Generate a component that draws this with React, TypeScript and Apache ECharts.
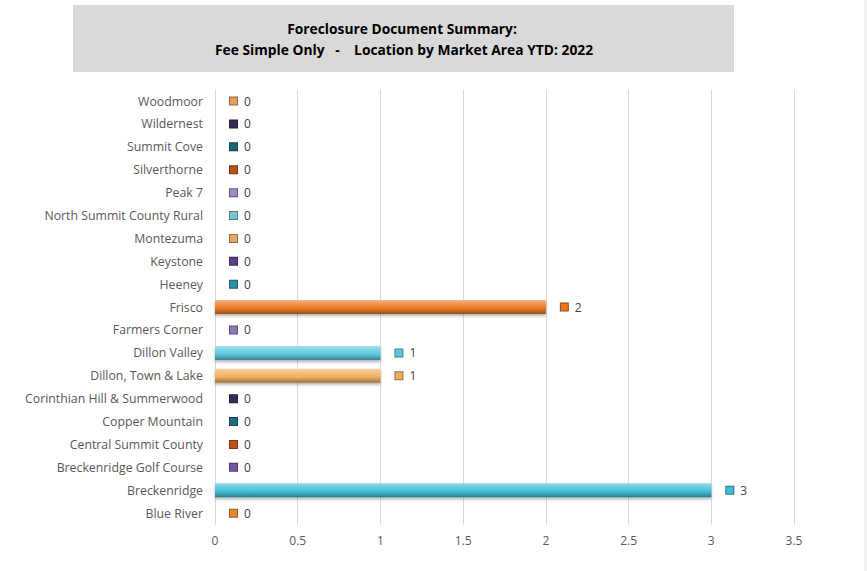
import React, { useEffect, useRef } from "react";
import * as echarts from "echarts";

const categories = [
  "Blue River",
  "Breckenridge",
  "Breckenridge Golf Course",
  "Central Summit County",
  "Copper Mountain",
  "Corinthian Hill & Summerwood",
  "Dillon, Town & Lake",
  "Dillon Valley",
  "Farmers Corner",
  "Frisco",
  "Heeney",
  "Keystone",
  "Montezuma",
  "North Summit County Rural",
  "Peak 7",
  "Silverthorne",
  "Summit Cove",
  "Wildernest",
  "Woodmoor",
];

const values = [0, 3, 0, 0, 0, 0, 1, 1, 0, 2, 0, 0, 0, 0, 0, 0, 0, 0, 0];

const colors = [
  "#E8892C",
  "#3FBCD4",
  "#7658A6",
  "#C0531C",
  "#1F6D7E",
  "#3B2B56",
  "#EFAE5E",
  "#5CC8DE",
  "#9077B6",
  "#EA761E",
  "#2A92AC",
  "#5A3E8A",
  "#E6A66A",
  "#7BC2D2",
  "#A08ABE",
  "#B8521C",
  "#1E6474",
  "#3A2A58",
  "#E69E5E",
];

const xTicks = { min: 0, max: 3.5, interval: 0.5 };

const titleLines = [
  "Foreclosure Document Summary:",
  "Fee Simple Only   -    Location by Market Area YTD: 2022",
];

function shade(hex: string, amt: number): string {
  const n = parseInt(hex.slice(1), 16);
  let r = (n >> 16) & 255;
  let g = (n >> 8) & 255;
  let b = n & 255;
  if (amt >= 0) {
    r = Math.round(r + (255 - r) * amt);
    g = Math.round(g + (255 - g) * amt);
    b = Math.round(b + (255 - b) * amt);
  } else {
    r = Math.round(r * (1 + amt));
    g = Math.round(g * (1 + amt));
    b = Math.round(b * (1 + amt));
  }
  return `rgb(${r},${g},${b})`;
}

export default function App() {
  const ref = useRef<HTMLDivElement>(null);
  useEffect(() => {
    if (!ref.current) return;
    const chart = echarts.init(ref.current, undefined, { renderer: "svg" });
    const rich: Record<string, any> = {
      v: { fontSize: 12, color: "#404040", fontFamily: "Open Sans", padding: [0, 0, 0, 7] },
    };
    colors.forEach((c, i) => {
      rich["m" + i] = {
        width: 7,
        height: 7,
        backgroundColor: c,
        borderColor: shade(c, -0.35),
        borderWidth: 1,
      };
    });
    const data = values.map((v, i) => ({
      value: v,
      itemStyle: {
        color: new echarts.graphic.LinearGradient(0, 0, 0, 1, [
          { offset: 0, color: shade(colors[i], 0.45) },
          { offset: 0.3, color: shade(colors[i], 0.2) },
          { offset: 0.6, color: colors[i] },
          { offset: 1, color: shade(colors[i], -0.35) },
        ]),
        shadowBlur: 3,
        shadowOffsetY: 2,
        shadowColor: "rgba(0,0,0,0.3)",
      },
    }));
    chart.setOption({
      animation: false,
      backgroundColor: "#ffffff",
      grid: { left: 215, right: 73, top: 89.6, bottom: 46.4, containLabel: false },
      graphic: [
        {
          type: "rect",
          shape: { x: 73, y: 5, width: 661, height: 67 },
          style: { fill: "#d9d9d9" },
          silent: true,
        },
        {
          type: "text",
          x: 402,
          y: 28,
          style: {
            text: titleLines[0],
            fontSize: 13.8,
            fontWeight: "bold",
            fontFamily: "Open Sans",
            fill: "#000000",
            textAlign: "center",
            textVerticalAlign: "middle",
          },
        },
        {
          type: "text",
          x: 404,
          y: 49,
          style: {
            text: titleLines[1],
            fontSize: 13.8,
            fontWeight: "bold",
            fontFamily: "Open Sans",
            fill: "#000000",
            textAlign: "center",
            textVerticalAlign: "middle",
          },
        },
        {
          type: "rect",
          shape: { x: 864, y: 0, width: 3, height: 571 },
          style: { fill: "#f0f0f0" },
          silent: true,
        },
      ],
      xAxis: {
        type: "value",
        min: xTicks.min,
        max: xTicks.max,
        interval: xTicks.interval,
        axisLine: { show: false },
        axisTick: { show: false },
        splitLine: { show: true, lineStyle: { color: "#d9d9d9", width: 1 } },
        axisLabel: {
          color: "#595959",
          fontSize: 12,
          fontFamily: "Open Sans",
          margin: 10,
        },
      },
      yAxis: {
        type: "category",
        data: categories,
        axisLine: { show: true, lineStyle: { color: "#d9d9d9" } },
        axisTick: { show: false },
        axisLabel: {
          color: "#595959",
          fontSize: 12.3,
          fontFamily: "Open Sans",
          margin: 12,
        },
      },
      series: [
        {
          type: "bar",
          data,
          barWidth: 14,
          label: {
            show: true,
            position: "right",
            distance: 15,
            formatter: (p: any) => `{m${p.dataIndex}|}{v|${p.value}}`,
            rich,
          },
        },
      ],
    });
    return () => chart.dispose();
  }, []);
  return <div ref={ref} style={{ width: 867, height: 571, position: "absolute", left: 0, top: 0 }} />;
}
